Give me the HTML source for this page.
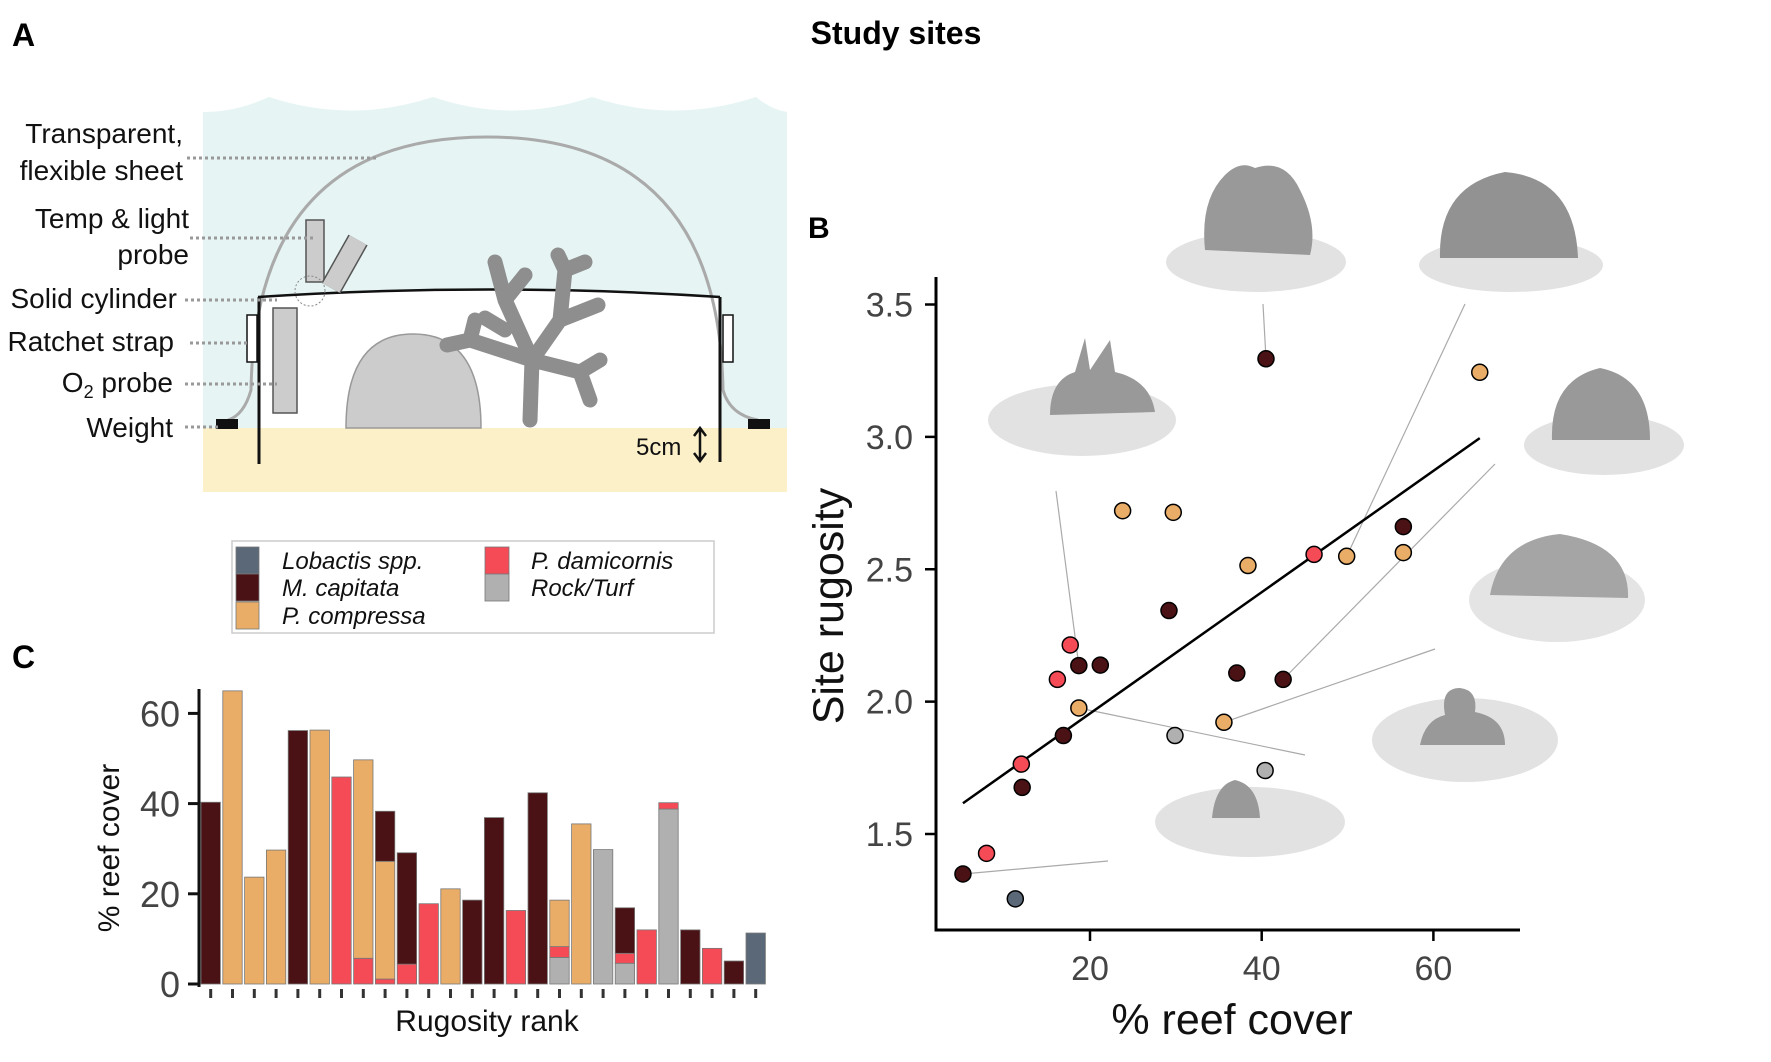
<!DOCTYPE html>
<html><head><meta charset="utf-8">
<style>
html,body{margin:0;padding:0;background:#fff;}
svg{display:block;font-family:"Liberation Sans",Arial,sans-serif;}
</style></head>
<body>
<svg id="fig" width="1771" height="1062" viewBox="0 0 1771 1062" xmlns="http://www.w3.org/2000/svg">
<rect x="0" y="0" width="1771" height="1062" fill="#fff"/>
<text x="896" y="44" text-anchor="middle" font-size="32" font-weight="bold" fill="#000">Study sites</text>
<text x="12" y="46" font-size="32" font-weight="bold">A</text>
<text x="12" y="668" font-size="32" font-weight="bold">C</text>
<text x="808" y="238" font-size="30" font-weight="bold">B</text>

<g>
  <rect x="203" y="97" width="584" height="335" fill="#e6f4f4"/>
  <path d="M203,97 L203,112 Q236,112 269,97 Q351,124 433,97 Q512,124 592,97 Q674,124 756,97 Q772,110 787,112 L787,97 Z" fill="#fff"/>
  <rect x="203" y="428" width="584" height="64" fill="#fbf0c8"/>
  <path d="M258,297 Q489,282 720,297 L720,428 L258,428 Z" fill="#fff"/>
  <path d="M228,420 Q244,415 251,390 Q255,137 487,137 Q719,137 723,390 Q730,415 758,420" fill="none" stroke="#aaa" stroke-width="3"/>
  <path d="M258,297 Q489,282 720,297" fill="none" stroke="#111" stroke-width="2.5"/>
  <line x1="259" y1="297" x2="259" y2="464" stroke="#111" stroke-width="3"/>
  <line x1="720" y1="297" x2="720" y2="462" stroke="#111" stroke-width="3"/>
  <rect x="247" y="315" width="10" height="47" fill="#fff" stroke="#111" stroke-width="1.5"/>
  <rect x="723" y="315" width="10" height="47" fill="#fff" stroke="#111" stroke-width="1.5"/>
  <rect x="216" y="419" width="22" height="10" fill="#111"/>
  <rect x="748" y="419" width="22" height="10" fill="#111"/>
  <rect x="273" y="308" width="24" height="105" fill="#ccc" stroke="#555" stroke-width="1.5"/>
  <rect x="306" y="220" width="18" height="62" fill="#ccc" stroke="#555" stroke-width="1.5"/>
  <line x1="358" y1="240" x2="331" y2="288" stroke="#555" stroke-width="22"/>
  <line x1="358" y1="240" x2="331" y2="288" stroke="#ccc" stroke-width="19"/>
  <circle cx="310" cy="291" r="15" fill="none" stroke="#888" stroke-width="1" stroke-dasharray="2 2"/>
  <path d="M346,428 Q346,334 413,334 Q481,334 481,428 Z" fill="#ccc" stroke="#999" stroke-width="1.5"/>
  <path d="M530,420 L532,360 M532,360 L505,300 M505,300 L495,262 M505,300 L525,275 M532,360 L560,320 M560,320 L565,270 M565,270 L558,255 M565,270 L585,262 M560,320 L598,305 M532,360 L470,340 M470,340 L447,345 M470,340 L475,320 M532,360 L580,372 M580,372 L600,360 M580,372 L590,400 M505,330 L485,318" fill="none" stroke="#8e8e8e" stroke-width="15" stroke-linecap="round" stroke-linejoin="round"/>
  <g fill="#111" font-size="28" text-anchor="end">
    <text x="183" y="143">Transparent,</text>
    <text x="183" y="180">flexible sheet</text>
    <text x="189" y="228">Temp &amp; light</text>
    <text x="189" y="264">probe</text>
    <text x="177" y="308">Solid cylinder</text>
    <text x="174" y="351">Ratchet strap</text>
    <text x="173" y="392">O<tspan font-size="18" dy="6">2</tspan><tspan dy="-6"> probe</tspan></text>
    <text x="173" y="437">Weight</text>
  </g>
  <g stroke="#999" stroke-width="3" stroke-dasharray="3 3">
    <line x1="187" y1="158" x2="379" y2="158"/>
    <line x1="190" y1="238" x2="313" y2="238"/>
    <line x1="185" y1="300" x2="277" y2="300"/>
    <line x1="190" y1="343" x2="249" y2="343"/>
    <line x1="185" y1="384" x2="277" y2="384"/>
    <line x1="185" y1="427" x2="218" y2="427"/>
  </g>
  <text x="636" y="455" font-size="24" fill="#111">5cm</text>
  <path d="M700,429 L700,460 M694,436 L700,428 L706,436 M694,453 L700,461 L706,453" fill="none" stroke="#111" stroke-width="2.5"/>
</g>

<g>
  <rect x="232" y="541" width="482" height="92" fill="#fff" stroke="#ccc" stroke-width="1.5"/>
  <g font-size="24" font-style="italic" fill="#111">
    <rect x="236" y="547" width="23" height="27" fill="#5b6878" stroke="#777" stroke-width="0.8"/>
    <text x="282" y="569">Lobactis spp.</text>
    <rect x="236" y="574" width="23" height="27" fill="#4a1214" stroke="#777" stroke-width="0.8"/>
    <text x="282" y="596">M. capitata</text>
    <rect x="236" y="602" width="23" height="27" fill="#e9ad67" stroke="#777" stroke-width="0.8"/>
    <text x="282" y="624">P. compressa</text>
    <rect x="485" y="547" width="24" height="27" fill="#f54b57" stroke="#777" stroke-width="0.8"/>
    <text x="531" y="569">P. damicornis</text>
    <rect x="485" y="574" width="24" height="27" fill="#b0b0b0" stroke="#777" stroke-width="0.8"/>
    <text x="531" y="596">Rock/Turf</text>
  </g>
</g>

<g id="panelC"></g>

<g id="models">
  <g>
    <ellipse cx="1256" cy="262" rx="90" ry="30" fill="#e2e2e2"/>
    <path d="M1205,250 Q1200,200 1225,175 Q1240,160 1255,168 Q1285,158 1300,190 Q1318,225 1310,255 Z" fill="#999"/>
  </g>
  <g>
    <ellipse cx="1511" cy="265" rx="92" ry="27" fill="#e2e2e2"/>
    <path d="M1440,258 Q1438,185 1505,172 Q1575,178 1578,258 Z" fill="#929292"/>
  </g>
  <g>
    <ellipse cx="1082" cy="420" rx="94" ry="36" fill="#e2e2e2"/>
    <path d="M1050,415 Q1050,380 1075,372 L1085,338 L1090,370 L1110,340 L1115,372 Q1150,380 1155,412 Z" fill="#999"/>
  </g>
  <g>
    <ellipse cx="1604" cy="445" rx="80" ry="30" fill="#e2e2e2"/>
    <path d="M1552,440 Q1550,380 1600,368 Q1650,378 1650,440 Z" fill="#999"/>
  </g>
  <g>
    <ellipse cx="1557" cy="600" rx="88" ry="42" fill="#e4e4e4"/>
    <path d="M1490,595 Q1500,540 1560,534 Q1630,545 1628,598 Z" fill="#a5a5a5"/>
  </g>
  <g>
    <ellipse cx="1465" cy="740" rx="93" ry="42" fill="#e2e2e2"/>
    <path d="M1420,745 Q1425,720 1445,715 Q1440,688 1460,688 Q1478,690 1475,712 Q1505,718 1505,745 Z" fill="#999"/>
  </g>
  <g>
    <ellipse cx="1250" cy="822" rx="95" ry="35" fill="#e2e2e2"/>
    <path d="M1212,818 Q1215,785 1235,780 Q1258,785 1260,818 Z" fill="#999"/>
  </g>
</g>

<g id="panelB"></g>
</svg>

<script>
// ---------- Panel C data ----------
const rankLabels = ["1","2","3","4","5","6","7","8","9","10","11","12","13","14","15","16","17","18","19","20","21","22","23","24","25","26"];
const rockTurf   = [0,0,0,0,0,0,0,0,0,0,0,0,0,0,0,0,5.9,0,29.8,4.6,0,38.8,0,0,0,0];
const pDamicornis= [0,0,0,0,0,0,45.9,5.7,1.1,4.4,17.8,0,0,0,16.3,0,2.4,0,0,2.2,12.0,1.4,0,7.9,0,0];
const pCompressa = [0,65,23.7,29.7,0,56.3,0,44.0,26.1,0,0,21.1,0,0,0,0,10.3,35.5,0,0,0,0,0,0,0,0];
const mCapitata  = [40.3,0,0,0,56.2,0,0,0,11.1,24.7,0,0,18.6,36.9,0,42.4,0,0,0,10.1,0,0,12.0,0,5.1,0];
const lobactis   = [0,0,0,0,0,0,0,0,0,0,0,0,0,0,0,0,0,0,0,0,0,0,0,0,0,11.3];
const coverTicks = [0,20,40,60];

// ---------- Panel B data ----------
const reefCover = [40.5,65.4,23.8,29.7,56.5,46.1,49.9,56.5,38.4,29.2,17.7,18.7,21.2,16.2,37.1,42.5,18.7,35.6,16.9,29.9,12.0,12.1,40.4,7.95,5.2,11.3];
const rugosity  = [3.295,3.244,2.721,2.715,2.661,2.556,2.549,2.563,2.514,2.344,2.214,2.136,2.138,2.084,2.108,2.084,1.976,1.922,1.872,1.872,1.764,1.676,1.740,1.427,1.349,1.255];
const dominant  = ["mcap","pcomp","pcomp","pcomp","mcap","pdam","pcomp","pcomp","pcomp","mcap","pdam","mcap","mcap","pdam","mcap","mcap","pcomp","pcomp","mcap","rock","pdam","mcap","rock","pdam","mcap","lob"];
const rugTicks = [1.5,2.0,2.5,3.0,3.5];
const rugTickLabels = ["1.5","2.0","2.5","3.0","3.5"];
const coverXTicks = [20,40,60];
const leaderPoints = [0,6,11,15,17,16,24];

const NS = "http://www.w3.org/2000/svg";
function mk(tag, attrs, parent){ const e=document.createElementNS(NS,tag); for(const k in attrs) e.setAttribute(k,attrs[k]); parent.appendChild(e); return e; }
const colors = {rock:"#b0b0b0", pdam:"#f54b57", pcomp:"#e9ad67", mcap:"#4a1214", lob:"#5b6878"};

(function(){
  const g = document.getElementById('panelC');
  const y0 = 984, pxPerUnit = 4.51, x0 = 201, pitch = 21.8, bw = 19.4;
  const yC = v => y0 - v*pxPerUnit;
  const xC = i => x0 + i*pitch;
  const series = [["rock",rockTurf],["pdam",pDamicornis],["pcomp",pCompressa],["mcap",mCapitata],["lob",lobactis]];
  rankLabels.forEach((lab,i)=>{
    let acc = 0;
    series.forEach(([key,arr])=>{
      const v = arr[i];
      if(v>0){
        const r = mk('rect',{x:xC(i),y:yC(acc+v),width:bw,height:v*pxPerUnit,fill:colors[key],stroke:"#777","stroke-width":0.8},g);
        
        
      }
      acc += v;
    });
    const t = mk('line',{x1:xC(i)+bw/2,x2:xC(i)+bw/2,y1:989,y2:998,stroke:"#333","stroke-width":3},g);
    
    
  });
  const ax = mk('line',{x1:199,x2:199,y1:689,y2:987,stroke:"#111","stroke-width":3},g);
  
  
  coverTicks.forEach(v=>{
    const tk = mk('line',{x1:188,x2:199,y1:yC(v),y2:yC(v),stroke:"#111","stroke-width":3},g);
    
    
    const tl = mk('text',{x:180,y:yC(v)+13,"text-anchor":"end","font-size":36,fill:"#444"},g);
    tl.textContent = v;
    
    
  });
  const yt = mk('text',{x:0,y:0,"text-anchor":"middle","font-size":30,fill:"#111",transform:"translate(119,848) rotate(-90)"},g);
  yt.textContent = "% reef cover";
  
  
  const xt = mk('text',{x:487,y:1031,"text-anchor":"middle","font-size":30,fill:"#111"},g);
  xt.textContent = "Rugosity rank";
  
  
})();

(function(){
  const g = document.getElementById('panelB');
  const xB = v => 918.3 + v*8.585;
  const yB = v => 834 - (v-1.5)*264.75;
  const anchors = [[1263,304],[1465,304],[1056,491],[1495,464],[1435,649],[1305,755],[1108,861]];
  leaderPoints.forEach((pi,k)=>{
    const l = mk('line',{x1:anchors[k][0],y1:anchors[k][1],x2:xB(reefCover[pi]),y2:yB(rugosity[pi]),stroke:"#aaa","stroke-width":1.2},g);
    
    
  });
  const n = reefCover.length;
  const mx = reefCover.reduce((a,b)=>a+b,0)/n, my = rugosity.reduce((a,b)=>a+b,0)/n;
  let sxy=0,sxx=0; for(let i=0;i<n;i++){ sxy+=(reefCover[i]-mx)*(rugosity[i]-my); sxx+=(reefCover[i]-mx)**2; }
  const slope = sxy/sxx, icp = my - slope*mx;
  const xmin = Math.min(...reefCover), xmax = Math.max(...reefCover);
  const fl = mk('line',{x1:xB(xmin),y1:yB(icp+slope*xmin),x2:xB(xmax),y2:yB(icp+slope*xmax),stroke:"#000","stroke-width":2.5},g);
  
  
  reefCover.forEach((x,i)=>{
    const c = mk('circle',{cx:xB(x),cy:yB(rugosity[i]),r:8,fill:colors[dominant[i]],stroke:"#000","stroke-width":1.5},g);
    
    
  });
  const ya = mk('line',{x1:936,x2:936,y1:277,y2:931,stroke:"#000","stroke-width":3},g);
  
  
  const xa = mk('line',{x1:934.5,x2:1520,y1:930,y2:930,stroke:"#000","stroke-width":3},g);
  
  
  rugTicks.forEach((v,k)=>{
    const tk = mk('line',{x1:925,x2:936,y1:yB(v),y2:yB(v),stroke:"#000","stroke-width":2.5},g);
    
    
    const tl = mk('text',{x:913,y:yB(v)+12,"text-anchor":"end","font-size":34,fill:"#444"},g);
    tl.textContent = rugTickLabels[k];
    
    
  });
  coverXTicks.forEach(v=>{
    const tk = mk('line',{x1:xB(v),x2:xB(v),y1:930,y2:941,stroke:"#000","stroke-width":2.5},g);
    
    
    const tl = mk('text',{x:xB(v),y:980,"text-anchor":"middle","font-size":34,fill:"#444"},g);
    tl.textContent = v;
    
    
  });
  const xt = mk('text',{x:1232,y:1034,"text-anchor":"middle","font-size":43,fill:"#111"},g);
  xt.textContent = "% reef cover";
  
  
  const yt = mk('text',{x:0,y:0,"text-anchor":"middle","font-size":43,fill:"#111",transform:"translate(843,606) rotate(-90)"},g);
  yt.textContent = "Site rugosity";
  
  
})();
</script>
</body></html>
